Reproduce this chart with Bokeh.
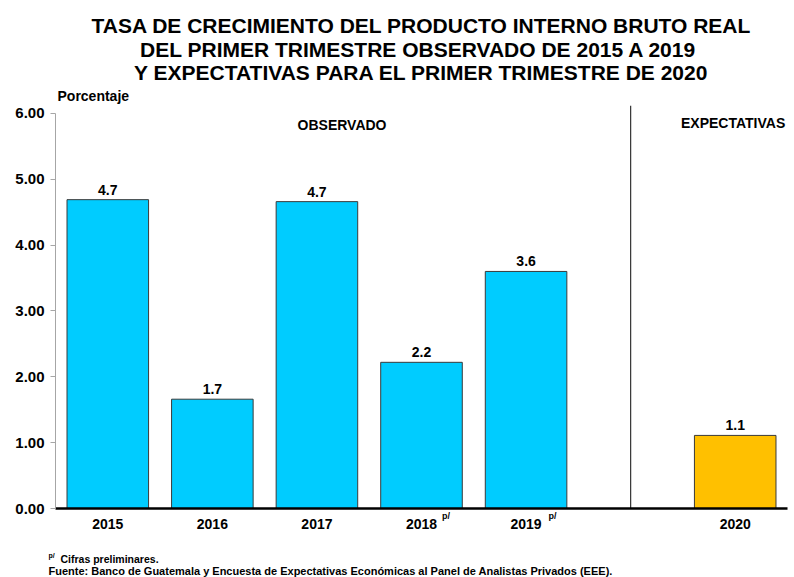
from bokeh.plotting import figure
from bokeh.layouts import column
from bokeh.models import ColumnDataSource, Range1d, FixedTicker, NumeralTickFormatter, LinearAxis
from bokeh.core.properties import value
from bokeh.embed import file_html
from bokeh.resources import INLINE

# ---------------- data ----------------
title_lines = [
    "TASA DE CRECIMIENTO DEL PRODUCTO INTERNO BRUTO REAL",
    "DEL PRIMER TRIMESTRE OBSERVADO DE  2015 A 2019",
    "Y EXPECTATIVAS PARA EL PRIMER TRIMESTRE DE 2020",
]
observed_years = ["2015", "2016", "2017", "2018", "2019"]
observed_values = [4.69, 1.66, 4.66, 2.22, 3.60]
expected_years = ["2020"]
expected_values = [1.11]
preliminary_years = ["2018", "2019"]
y_ticks = [0, 1, 2, 3, 4, 5, 6]
y_label = "Porcentaje"
section_labels = ["OBSERVADO", "EXPECTATIVAS"]
prelim_mark = "p/"
note_text = "Cifras preliminares."
source_text = "Fuente:  Banco de Guatemala y Encuesta de Expectativas Económicas al Panel de Analistas Privados (EEE)."

# ---------------- layout ----------------
FONT = "Liberation Sans"
NARROW = "Liberation Sans Narrow, Liberation Sans"
W, H = 794, 577
HEAD_H = 105          # header strip height
FOOT_H = 32           # footer strip height
MAIN_H = H - HEAD_H - FOOT_H
FL, FR = 55, 787      # frame left/right
FB = 508 - HEAD_H     # frame bottom inside main figure
YMAX = 6.12
X0, X1 = -0.5, 6.5
BOLD = dict(text_font=value(FONT), text_font_style="bold", text_color="black")


def strip(height, top_px):
    f = figure(width=W, height=height, x_range=Range1d(0, W), y_range=Range1d(top_px + height, top_px),
               output_backend="svg", toolbar_location=None, x_axis_location=None, y_axis_location=None,
               min_border_left=0, min_border_right=0, min_border_top=0, min_border_bottom=0)
    f.outline_line_color = None
    f.xgrid.visible = False
    f.ygrid.visible = False
    return f


obs_x = list(range(len(observed_years)))
exp_x = [len(observed_years) + 1 + i for i in range(len(expected_years))]
divider_x = len(observed_years)

# ---------------- main chart ----------------
p = figure(width=W, height=MAIN_H, x_range=Range1d(X0, X1), y_range=Range1d(0, YMAX),
           output_backend="svg", toolbar_location=None, x_axis_location=None,
           min_border_left=FL, min_border_right=W - FR, min_border_top=0,
           min_border_bottom=MAIN_H - FB)
p.outline_line_color = None
p.xgrid.visible = False
p.ygrid.visible = False

obs_src = ColumnDataSource(dict(x=obs_x, top=observed_values,
                                lab=["%.1f" % v for v in observed_values]))
exp_src = ColumnDataSource(dict(x=exp_x, top=expected_values,
                                lab=["%.1f" % v for v in expected_values]))

p.vbar(x="x", top="top", width=0.78, source=obs_src, fill_color="#00CCFF",
       line_color="#3a3a3a", line_width=1)
p.vbar(x="x", top="top", width=0.78, source=exp_src, fill_color="#FFC000",
       line_color="#3a3a3a", line_width=1)

for src in (obs_src, exp_src):
    p.text(x="x", y="top", text="lab", source=src, text_align="center", text_baseline="bottom",
           y_offset=-5, text_font_size="14px", **BOLD)

# divider between observed and expected
p.segment(x0=[divider_x], y0=[0], x1=[divider_x], y1=[YMAX], line_color="#333333", line_width=1.2)

# section labels
p.text(x=[2.24], y=[5.82], text=[section_labels[0]], text_align="center", text_baseline="middle",
       text_font_size="14px", **BOLD)
p.text(x=[5.98], y=[5.86], text=[section_labels[1]], text_align="center", text_baseline="middle",
       text_font_size="14px", **BOLD)

# y axis
ya = p.yaxis[0]
ya.ticker = FixedTicker(ticks=y_ticks)
ya.formatter = NumeralTickFormatter(format="0.00")
ya.bounds = (y_ticks[0], y_ticks[-1])
ya.axis_line_color = "#A6A6A6"
ya.major_tick_line_color = "#A6A6A6"
ya.major_tick_out = 5
ya.major_tick_in = 0
ya.minor_tick_out = 0
ya.minor_tick_in = 0
ya.major_label_standoff = 6
ya.major_label_text_font = FONT
ya.major_label_text_font_style = "bold"
ya.major_label_text_font_size = "15px"
ya.major_label_text_color = "black"

# x axis (1): axis line + preliminary superscripts
sup_x = [obs_x[observed_years.index(y)] + d for y, d in zip(preliminary_years, [0.234, 0.253])]
xa1 = LinearAxis(ticker=FixedTicker(ticks=sup_x),
                 major_label_overrides={x: prelim_mark for x in sup_x})
xa1.axis_line_color = "black"
xa1.axis_line_width = 2.5
xa1.major_tick_out = 0
xa1.major_tick_in = 0
xa1.minor_tick_out = 0
xa1.minor_tick_in = 0
xa1.major_label_standoff = 2
xa1.major_label_text_font = FONT
xa1.major_label_text_font_style = "bold"
xa1.major_label_text_font_size = "9px"
xa1.major_label_text_color = "black"
p.add_layout(xa1, "below")

# x axis (2): year labels
all_x = obs_x + exp_x
xa2 = LinearAxis(ticker=FixedTicker(ticks=all_x),
                 major_label_overrides={x: y for x, y in zip(all_x, observed_years + expected_years)})
xa2.axis_line_color = None
xa2.major_tick_out = 0
xa2.major_tick_in = 0
xa2.minor_tick_out = 0
xa2.minor_tick_in = 0
xa2.major_label_standoff = -5
xa2.major_label_text_font = FONT
xa2.major_label_text_font_style = "bold"
xa2.major_label_text_font_size = "14px"
xa2.major_label_text_color = "black"
p.add_layout(xa2, "below")

# ---------------- header ----------------
head = strip(HEAD_H, 0)
head.text(x=[421, 421, 421], y=[25, 48.5, 72], text=title_lines, text_align="center",
          text_baseline="alphabetic", text_font_size="21px", **BOLD)
head.text(x=[57], y=[95], text=[y_label], text_align="left", text_baseline="middle",
          text_font_size="14px", **BOLD)

# ---------------- footer ----------------
foot = strip(FOOT_H, H - FOOT_H)
foot.text(x=[48], y=[555], text=[prelim_mark], text_align="left", text_baseline="middle",
          text_font=value(NARROW), text_font_style="bold", text_font_size="7px", text_color="black")
foot.text(x=[60], y=[558], text=[note_text], text_align="left",
          text_baseline="middle", text_font=value(NARROW), text_font_style="bold",
          text_font_size="10.5px", text_color="black")
foot.text(x=[48], y=[570], text=[source_text], text_align="left",
          text_baseline="middle", text_font=value(NARROW), text_font_style="bold",
          text_font_size="11px", text_color="black")

layout = column(column(head, spacing=0), p, column(foot, spacing=0), spacing=0)
open("out.html", "w").write(file_html(layout, INLINE))
